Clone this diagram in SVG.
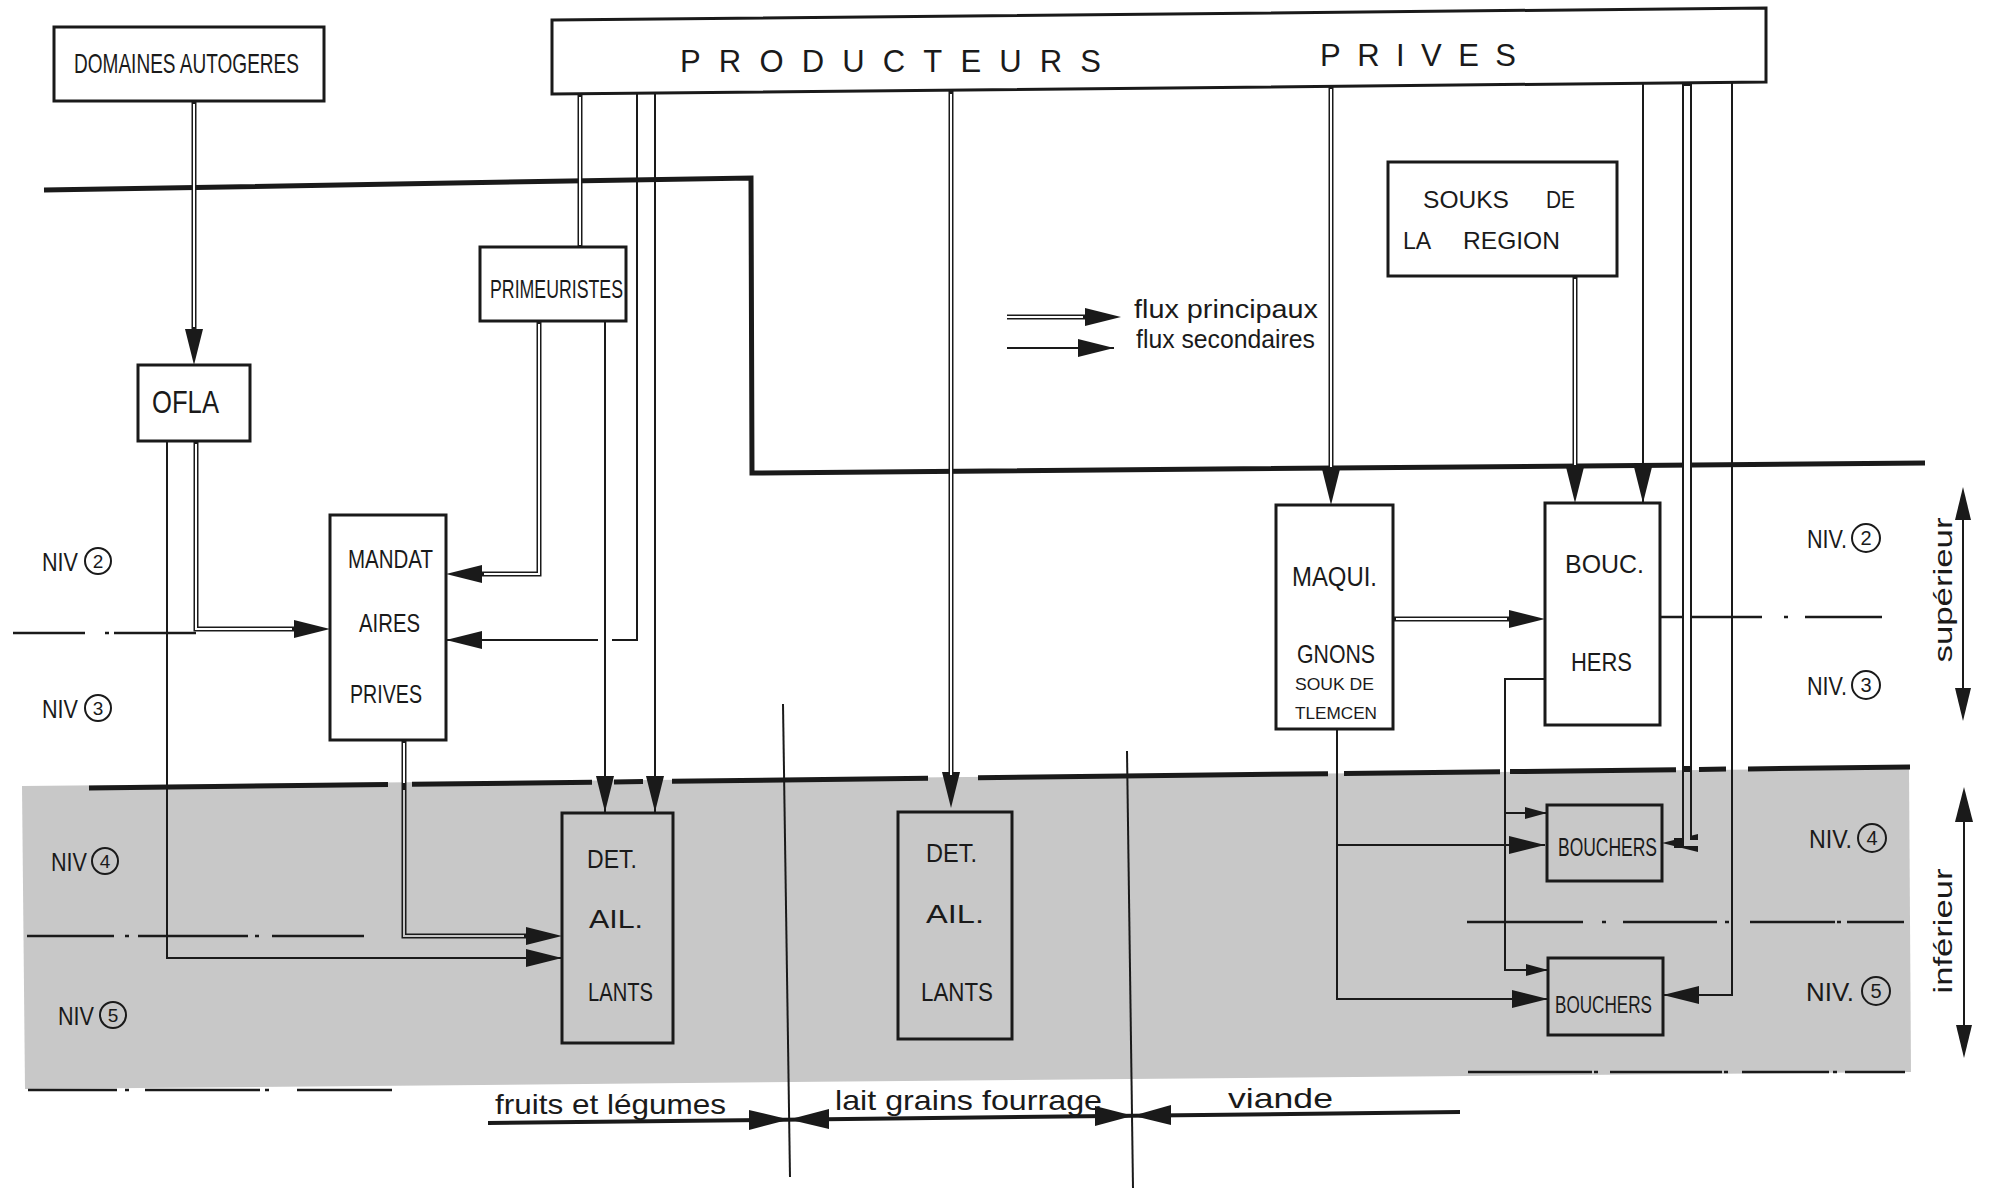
<svg xmlns="http://www.w3.org/2000/svg" width="1990" height="1188" viewBox="0 0 1990 1188">
<defs>
<style>
.t{font-family:'Liberation Sans',Arial,sans-serif;fill:#1a1a1a;}
.box{stroke:#1a1a1a;stroke-width:3;fill:#fff;}
.boxs{stroke:#1a1a1a;stroke-width:3;fill:none;}
.o{stroke:#1a1a1a;stroke-width:5;fill:none;}
.i{stroke:#fff;stroke-width:2;fill:none;}
.ig{stroke:#c8c8c8;stroke-width:2;fill:none;}
.s{stroke:#1a1a1a;stroke-width:2;fill:none;}
.thick{stroke:#1a1a1a;stroke-width:5;fill:none;}
.dd{stroke:#1a1a1a;stroke-width:2.5;fill:none;}
.cir{stroke:#1a1a1a;stroke-width:2;fill:none;}
</style>
<marker id="ah" markerUnits="userSpaceOnUse" markerWidth="36" markerHeight="18" viewBox="0 0 36 18" refX="36" refY="9" orient="auto"><path d="M0,0 L36,9 L0,18 Z" fill="#1a1a1a"/></marker>
<marker id="ahp" markerUnits="userSpaceOnUse" markerWidth="36" markerHeight="18" viewBox="0 0 36 18" refX="24" refY="9" orient="auto"><path d="M0,0 L36,9 L0,18 Z" fill="#1a1a1a"/></marker>
<marker id="ahs" markerUnits="userSpaceOnUse" markerWidth="22" markerHeight="12" viewBox="0 0 22 12" refX="22" refY="6" orient="auto"><path d="M0,0 L22,6 L0,12 Z" fill="#1a1a1a"/></marker>
</defs>
<rect width="1990" height="1188" fill="#fff"/>
<polygon id="shade" points="22,786 1909,768 1911,1072 25,1089" fill="#c8c8c8"/>

<g id="levels">
<path class="thick" d="M44,190 L751,178 L752,473 L1925,463"/>
<path class="thick" d="M89,788 L388,784.6 M412,784.3 L592,782.2 M614,782 L643,781.6 M672,781.3 L928,778.3 M978,777.7 L1328,773.7 M1344,773.5 L1500,771.7 M1510,771.6 L1676,769.7 M1699,769.4 L1726,769.1 M1748,768.9 L1910,767"/>
<path class="dd" d="M13,633 H85 M105,633 H109 M114,633 H196"/>
<path class="dd" d="M1660,617 H1762 M1784,617 H1788 M1805,617 H1882"/>
<path class="dd" d="M27,936 H114 M125,936 H129 M138,936 H248 M255,936 H259 M272,936 H364"/>
<path class="dd" d="M1467,922 H1583 M1602,922 H1606 M1623,922 H1717 M1725,922 H1729 M1750,922 H1835 M1837,922 H1841 M1847,922 H1904"/>
<path class="dd" d="M28,1090 H117 M125,1090 H129 M145,1090 H260 M265,1090 H269 M297,1090 H392"/>
<path class="dd" d="M1468,1072 H1592 M1594,1072 H1598 M1610,1072 H1722 M1724,1072 H1728 M1742,1072 H1829 M1833,1072 H1837 M1845,1072 H1905"/>
<text class="t" x="42" y="571" font-size="26" textLength="36" lengthAdjust="spacingAndGlyphs">NIV</text>
<circle class="cir" cx="98" cy="561" r="13"/><text class="t" x="98" y="568" font-size="19" text-anchor="middle">2</text>
<text class="t" x="42" y="718" font-size="26" textLength="36" lengthAdjust="spacingAndGlyphs">NIV</text>
<circle class="cir" cx="98" cy="708" r="13"/><text class="t" x="98" y="715" font-size="19" text-anchor="middle">3</text>
<text class="t" x="51" y="871" font-size="26" textLength="36" lengthAdjust="spacingAndGlyphs">NIV</text>
<circle class="cir" cx="105" cy="861" r="13"/><text class="t" x="105" y="868" font-size="19" text-anchor="middle">4</text>
<text class="t" x="58" y="1025" font-size="26" textLength="36" lengthAdjust="spacingAndGlyphs">NIV</text>
<circle class="cir" cx="113" cy="1015" r="13"/><text class="t" x="113" y="1022" font-size="19" text-anchor="middle">5</text>
<text class="t" x="1807" y="548" font-size="26" textLength="40" lengthAdjust="spacingAndGlyphs">NIV.</text>
<circle class="cir" cx="1866" cy="538" r="14"/><text class="t" x="1866" y="545" font-size="20" text-anchor="middle">2</text>
<text class="t" x="1807" y="695" font-size="26" textLength="40" lengthAdjust="spacingAndGlyphs">NIV.</text>
<circle class="cir" cx="1866" cy="685" r="14"/><text class="t" x="1866" y="692" font-size="20" text-anchor="middle">3</text>
<text class="t" x="1809" y="848" font-size="26" textLength="43" lengthAdjust="spacingAndGlyphs">NIV.</text>
<circle class="cir" cx="1872" cy="838" r="14"/><text class="t" x="1872" y="845" font-size="20" text-anchor="middle">4</text>
<text class="t" x="1806" y="1001" font-size="26" textLength="48" lengthAdjust="spacingAndGlyphs">NIV.</text>
<circle class="cir" cx="1876" cy="991" r="14"/><text class="t" x="1876" y="998" font-size="20" text-anchor="middle">5</text>
<path class="s" d="M1963,505 V703"/>
<polygon points="1963,487 1955,520 1971,520" fill="#1a1a1a"/>
<polygon points="1963,721 1955,688 1971,688" fill="#1a1a1a"/>
<text class="t" transform="translate(1952,590) rotate(-90)" font-size="26" text-anchor="middle" textLength="145" lengthAdjust="spacingAndGlyphs">supérieur</text>
<path class="s" d="M1964,805 V1040"/>
<polygon points="1964,787 1955,822 1973,822" fill="#1a1a1a"/>
<polygon points="1964,1058 1956,1025 1972,1025" fill="#1a1a1a"/>
<text class="t" transform="translate(1952,931) rotate(-90)" font-size="26" text-anchor="middle" textLength="125" lengthAdjust="spacingAndGlyphs">inférieur</text>
</g>

<g id="categories">
<path class="s" d="M783,704 L790,1177"/>
<path class="s" d="M1127,751 L1133,1188"/>
<path class="thick" style="stroke-width:4" d="M488,1123 L1460,1112"/>
<polygon points="789,1119.6 749,1110 749,1130" fill="#1a1a1a"/>
<polygon points="789,1119.6 829,1109 829,1129" fill="#1a1a1a"/>
<polygon points="1133,1115.7 1095,1106 1095,1126" fill="#1a1a1a"/>
<polygon points="1133,1115.7 1171,1105 1171,1125" fill="#1a1a1a"/>
<text class="t" x="495" y="1114" font-size="28" textLength="231" lengthAdjust="spacingAndGlyphs">fruits et légumes</text>
<text class="t" x="835" y="1110" font-size="28" textLength="267" lengthAdjust="spacingAndGlyphs">lait grains fourrage</text>
<text class="t" x="1228" y="1108" font-size="28" textLength="105" lengthAdjust="spacingAndGlyphs">viande</text>
</g>

<g id="legend">
<path class="o" d="M1007,317 H1109" marker-end="url(#ahp)"/>
<path class="i" d="M1007,317 H1083"/>
<path class="s" d="M1007,348 H1114" marker-end="url(#ah)"/>
<text class="t" x="1134" y="318" font-size="25" textLength="184" lengthAdjust="spacingAndGlyphs">flux principaux</text>
<text class="t" x="1136" y="348" font-size="25" textLength="179" lengthAdjust="spacingAndGlyphs">flux secondaires</text>
</g>

<g id="connectors">
<path class="o" d="M194,101 V353" marker-end="url(#ahp)"/><path class="i" d="M194,104 V327"/>
<path class="o" d="M580,95 V247"/><path class="i" d="M580,97 V245"/>
<path class="o" d="M196,441 V629 H318" marker-end="url(#ahp)"/><path class="i" d="M196,444 V629 H292"/>
<path class="o" d="M539,321 V574 H458" marker-end="url(#ahp)"/><path class="i" d="M539,324 V574 H484"/>
<path class="o" d="M404,740 V936 H550" marker-end="url(#ahp)"/><path class="i" d="M404,743 V783"/><path class="ig" d="M404,790 V936 H524"/>
<path class="o" d="M951,91 V796" marker-end="url(#ahp)"/><path class="i" d="M951,94 V775"/>
<path class="o" d="M1331,86 V493" marker-end="url(#ahp)"/><path class="i" d="M1331,89 V467"/>
<path class="o" d="M1575,276 V491" marker-end="url(#ahp)"/><path class="i" d="M1575,279 V465"/>
<path class="o" d="M1393,619 H1533" marker-end="url(#ahp)"/><path class="i" d="M1396,619 H1507"/>
<path class="o" style="stroke-width:10" d="M1687,83 V843 H1674" marker-end="url(#ahp)"/><path class="i" style="stroke-width:6" d="M1687,86 V766"/><path class="ig" style="stroke-width:6" d="M1687,772 V843 H1700"/>
<path class="s" d="M167,441 V958 H562" marker-end="url(#ah)"/>
<path class="s" d="M637,90 V640 H612 M598,640 H446" marker-end="url(#ah)"/>
<path class="s" d="M605,321 V812" marker-end="url(#ah)"/>
<path class="s" d="M655,90 V812" marker-end="url(#ah)"/>
<path class="s" d="M1643,83 V503" marker-end="url(#ah)"/>
<path class="s" d="M1732,82 V995 H1663" marker-end="url(#ah)"/>
<path class="s" d="M1337,729 V845 H1545" marker-end="url(#ah)"/>
<path class="s" d="M1337,845 V999 H1548" marker-end="url(#ah)"/>
<path class="s" d="M1545,679 H1505 V813 H1547" marker-end="url(#ahs)"/>
<path class="s" d="M1505,813 V970 H1548" marker-end="url(#ahs)"/>
</g>

<g id="domaines"><rect class="box" x="54" y="27" width="270" height="74"/><text class="t" x="74" y="73" font-size="28" textLength="225" lengthAdjust="spacingAndGlyphs">DOMAINES AUTOGERES</text></g>
<g id="producteurs"><polygon class="box" points="552,20 1766,8 1766,82 552,94"/><text class="t" x="680" y="72" font-size="31" textLength="421" lengthAdjust="spacing">PRODUCTEURS</text><text class="t" x="1320" y="66" font-size="31" textLength="196" lengthAdjust="spacing">PRIVES</text></g>
<g id="primeuristes"><rect class="box" x="480" y="247" width="146" height="74"/><text class="t" x="490" y="298" font-size="25" textLength="133" lengthAdjust="spacingAndGlyphs">PRIMEURISTES</text></g>
<g id="ofla"><rect class="box" x="138" y="365" width="112" height="76"/><text class="t" x="152" y="413" font-size="31" textLength="67" lengthAdjust="spacingAndGlyphs">OFLA</text></g>
<g id="mandataires"><rect class="box" x="330" y="515" width="116" height="225"/><text class="t" x="348" y="568" font-size="26" textLength="85" lengthAdjust="spacingAndGlyphs">MANDAT</text><text class="t" x="359" y="632" font-size="26" textLength="61" lengthAdjust="spacingAndGlyphs">AIRES</text><text class="t" x="350" y="703" font-size="25" textLength="72" lengthAdjust="spacingAndGlyphs">PRIVES</text></g>
<g id="detaillants1"><rect class="boxs" x="562" y="813" width="111" height="230"/><text class="t" x="587" y="868" font-size="26" textLength="50" lengthAdjust="spacingAndGlyphs">DET.</text><text class="t" x="589" y="928" font-size="26" textLength="54" lengthAdjust="spacingAndGlyphs">AIL.</text><text class="t" x="588" y="1001" font-size="26" textLength="65" lengthAdjust="spacingAndGlyphs">LANTS</text></g>
<g id="detaillants2"><rect class="boxs" x="898" y="812" width="114" height="227"/><text class="t" x="926" y="862" font-size="26" textLength="51" lengthAdjust="spacingAndGlyphs">DET.</text><text class="t" x="926" y="923" font-size="26" textLength="58" lengthAdjust="spacingAndGlyphs">AIL.</text><text class="t" x="921" y="1001" font-size="26" textLength="72" lengthAdjust="spacingAndGlyphs">LANTS</text></g>
<g id="souks"><rect class="box" x="1388" y="162" width="229" height="114"/><text class="t" y="208" font-size="24"><tspan x="1423" textLength="86" lengthAdjust="spacingAndGlyphs">SOUKS</tspan> <tspan x="1546" textLength="29" lengthAdjust="spacingAndGlyphs">DE</tspan></text><text class="t" y="249" font-size="24"><tspan x="1403" textLength="27" lengthAdjust="spacingAndGlyphs">LA</tspan> <tspan x="1463" textLength="97" lengthAdjust="spacingAndGlyphs">REGION</tspan></text></g>
<g id="maquignons"><rect class="box" x="1276" y="505" width="117" height="224"/><text class="t" x="1292" y="586" font-size="27" textLength="85" lengthAdjust="spacingAndGlyphs">MAQUI.</text><text class="t" x="1297" y="663" font-size="26" textLength="78" lengthAdjust="spacingAndGlyphs">GNONS</text><text class="t" x="1295" y="690" font-size="17" textLength="79" lengthAdjust="spacingAndGlyphs">SOUK DE</text><text class="t" x="1295" y="719" font-size="17" textLength="82" lengthAdjust="spacingAndGlyphs">TLEMCEN</text></g>
<g id="bouchers-sup"><rect class="box" x="1545" y="503" width="115" height="222"/><text class="t" x="1565" y="573" font-size="26" textLength="79" lengthAdjust="spacingAndGlyphs">BOUC.</text><text class="t" x="1571" y="671" font-size="26" textLength="61" lengthAdjust="spacingAndGlyphs">HERS</text></g>
<g id="bouchers-4"><rect class="boxs" x="1547" y="805" width="115" height="76"/><text class="t" x="1558" y="856" font-size="26" textLength="99" lengthAdjust="spacingAndGlyphs">BOUCHERS</text></g>
<g id="bouchers-5"><rect class="boxs" x="1548" y="958" width="115" height="77"/><text class="t" x="1555" y="1013" font-size="24" textLength="97" lengthAdjust="spacingAndGlyphs">BOUCHERS</text></g>
</svg>
